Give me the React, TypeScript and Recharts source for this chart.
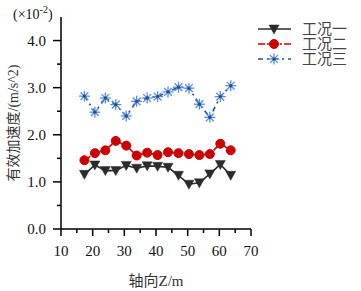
import React from 'react';
import { LineChart, Line, XAxis, YAxis, Legend, Label } from 'recharts';

const positions = [17.4, 20.7, 24.0, 27.3, 30.6, 33.9, 37.2, 40.5, 43.8, 47.1, 50.4, 53.7, 57.0, 60.3, 63.6];
const case1 = [1.16, 1.36, 1.24, 1.24, 1.35, 1.29, 1.34, 1.33, 1.31, 1.14, 0.95, 0.98, 1.17, 1.37, 1.14];
const case2 = [1.46, 1.61, 1.67, 1.87, 1.77, 1.56, 1.62, 1.57, 1.63, 1.61, 1.59, 1.57, 1.59, 1.81, 1.67];
const case3 = [2.82, 2.48, 2.78, 2.64, 2.40, 2.71, 2.78, 2.81, 2.91, 3.01, 2.99, 2.65, 2.37, 2.81, 3.04];
const seriesNames = ['工况一', '工况二', '工况三'];
const xTicks = [10, 15, 20, 25, 30, 35, 40, 45, 50, 55, 60, 65, 70];
const yTicks = [0, 0.5, 1, 1.5, 2, 2.5, 3, 3.5, 4];

const data = positions.map((z, i) => ({ z, a: case1[i], b: case2[i], c: case3[i] }));

const FONT = 'Liberation Serif, Times New Roman, DejaVu Serif, Noto Sans CJK SC, serif';
const C1 = '#2b2b2b';
const C2 = '#cc0000';
const C3 = '#1f4f9f';
const C3L = '#5a8fd8';

const Tri = ({ cx, cy }: any) => (
  <polygon points={`${cx - 5},${cy - 4} ${cx + 5},${cy - 4} ${cx},${cy + 5}`} fill={C1} stroke={C1} strokeWidth={0.5} />
);
const Circ = ({ cx, cy }: any) => <circle cx={cx} cy={cy} r={4.5} fill={C2} stroke={C2} />;
const Star = ({ cx, cy }: any) => {
  const r = 5.5;
  const d = r * 0.7071;
  return (
    <g>
      <line x1={cx - r} y1={cy} x2={cx + r} y2={cy} stroke={C3L} strokeWidth={1.3} />
      <line x1={cx} y1={cy - r} x2={cx} y2={cy + r} stroke={C3L} strokeWidth={1.3} />
      <line x1={cx - d} y1={cy - d} x2={cx + d} y2={cy + d} stroke={C3L} strokeWidth={1.3} />
      <line x1={cx - d} y1={cy + d} x2={cx + d} y2={cy - d} stroke={C3L} strokeWidth={1.3} />
      <circle cx={cx} cy={cy} r={1.7} fill={C3} />
    </g>
  );
};

const mk = (Comp: any) => (props: any) => {
  const { cx, cy, index } = props;
  if (cx == null || cy == null) return <g key={`n${index}`} />;
  return <g key={`m${index}`}><Comp cx={cx} cy={cy} /></g>;
};

const txt = { fontFamily: FONT, fontSize: 15 };

const XTick = ({ x, y, payload }: any) => {
  const v = payload.value;
  const major = v % 10 === 0;
  return (
    <g>
      <line x1={x} y1={y} x2={x} y2={y + (major ? 7 : 4)} stroke="#000" strokeWidth={1.5} />
      {major && (
        <text x={x} y={y + 27} textAnchor="middle" style={txt} fill="#111">{v}</text>
      )}
    </g>
  );
};

const YTick = ({ x, y, payload }: any) => {
  const v = payload.value;
  const major = Math.abs(v - Math.round(v)) < 1e-6;
  return (
    <g>
      <line x1={x - (major ? 8 : 4)} y1={y} x2={x} y2={y} stroke="#000" strokeWidth={1.5} />
      {major && (
        <text x={x - 15} y={y + 5} textAnchor="end" style={txt} fill="#111">{v.toFixed(1)}</text>
      )}
    </g>
  );
};

const LegendContent = () => {
  const rows = [
    { name: seriesNames[0], color: C1, dash: undefined, M: Tri },
    { name: seriesNames[1], color: C2, dash: '7 2 2 2', M: Circ },
    { name: seriesNames[2], color: C3, dash: '5 4 2 4', M: Star },
  ];
  return (
    <svg width={100} height={48} style={{ display: 'block' }}>
      {rows.map((r, i) => {
        const cy = 8 + i * 15;
        return (
          <g key={r.name}>
            <line x1={3} y1={cy} x2={36} y2={cy} stroke={r.color} strokeWidth={1.6} strokeDasharray={r.dash} />
            <r.M cx={19} cy={cy} />
            <text x={47} y={cy + 5} style={txt} fill="#444">{r.name}</text>
          </g>
        );
      })}
    </svg>
  );
};

const ScaleNote = () => (
  <text x={13} y={19} style={{ fontFamily: FONT, fontSize: 14 }} fill="#111">
    (×10<tspan dy={-6} style={{ fontSize: 10 }}>-2</tspan><tspan dy={6}>)</tspan>
  </text>
);

export default function App() {
  return (
    <div style={{ position: 'absolute', left: 0, top: 0, width: 361, height: 291, background: '#fff', fontFamily: FONT }}>
      <LineChart width={361} height={291} data={data} margin={{ top: 17, right: 10, bottom: 0, left: 0 }}>
        <XAxis
          dataKey="z"
          type="number"
          domain={[10, 70]}
          ticks={xTicks}
          height={62}
          tickSize={0}
          tickMargin={0}
          tickLine={false}
          tick={<XTick />}
          axisLine={{ stroke: '#000', strokeWidth: 1.5 }}
          interval={0}
        >
          <Label value="轴向Z/m" position="insideBottom" offset={5} style={{ fontSize: 15, fontFamily: FONT, fill: '#333' }} />
        </XAxis>
        <YAxis
          type="number"
          domain={[0, 4.5]}
          ticks={yTicks}
          width={61}
          tickSize={0}
          tickMargin={0}
          tickLine={false}
          tick={<YTick />}
          axisLine={{ stroke: '#000', strokeWidth: 1.5 }}
          interval={0}
        >
          <Label
            value="有效加速度/(m/s^2)"
            angle={-90}
            position="insideLeft"
            offset={13}
            style={{ fontSize: 14, fontFamily: FONT, fill: '#333', textAnchor: 'middle' }}
          />
          <Label content={() => <ScaleNote />} />
        </YAxis>
        <Legend
          layout="vertical"
          verticalAlign="top"
          align="right"
          content={() => <LegendContent />}
          wrapperStyle={{ position: 'absolute', top: 21, left: 255, right: 'auto', width: 100 }}
        />
        <Line dataKey="a" name={seriesNames[0]} stroke={C1} strokeWidth={1.6} dot={mk(Tri)} activeDot={false} isAnimationActive={false} />
        <Line dataKey="b" name={seriesNames[1]} stroke={C2} strokeWidth={1.6} strokeDasharray="7 2 2 2" dot={mk(Circ)} activeDot={false} isAnimationActive={false} />
        <Line dataKey="c" name={seriesNames[2]} stroke={C3} strokeWidth={1.6} strokeDasharray="5 4 2 4" dot={mk(Star)} activeDot={false} isAnimationActive={false} />
      </LineChart>
    </div>
  );
}
